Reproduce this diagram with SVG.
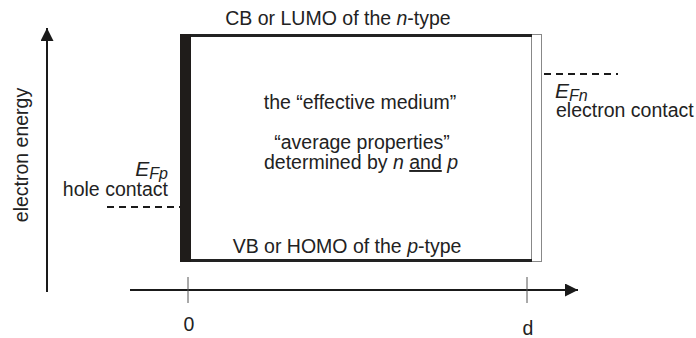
<svg xmlns="http://www.w3.org/2000/svg" width="696" height="338" viewBox="0 0 696 338">
<defs>
<marker id="arrbig" viewBox="0 0 14 14" refX="14" refY="7" markerWidth="15" markerHeight="13" markerUnits="userSpaceOnUse" orient="auto">
<path d="M0,0 L14,7 L0,14 z" fill="#1a1a1a"/>
</marker>
</defs>
<style>
text{font-family:"Liberation Sans",Arial,sans-serif;font-size:19.5px;fill:#222}
.axis{stroke:#1a1a1a;stroke-width:2;fill:none}
.tick{stroke:#555;stroke-width:1}
.dash{stroke:#1a1a1a;stroke-width:2;stroke-dasharray:7,5;fill:none}
.band{stroke:#222;stroke-width:3}
.ef{font-style:italic;font-size:21px}
.sub{font-size:16px}
</style>
<rect width="696" height="338" fill="#fff"/>
<g id="connectors">
<line class="axis" x1="47" y1="292" x2="47" y2="28" marker-end="url(#arrbig)"/>
<line class="axis" x1="130" y1="290" x2="578" y2="290" marker-end="url(#arrbig)"/>
<line class="tick" x1="188" y1="277" x2="188" y2="303"/>
<line class="tick" x1="527" y1="277" x2="527" y2="303"/>
<line class="dash" x1="544" y1="74" x2="618" y2="74"/>
<line class="dash" x1="107" y1="207" x2="180" y2="207"/>
</g>
<g id="medium">
<rect x="531.5" y="34.5" width="10" height="227" fill="#fff" stroke="#888" stroke-width="1"/>
<line class="band" x1="190" y1="35.5" x2="532" y2="35.5"/>
<line class="band" x1="190" y1="260.5" x2="532" y2="260.5"/>
<rect x="180" y="34" width="11" height="228" fill="#1f1c1a"/>
<text x="338" y="25" text-anchor="middle">CB or LUMO of the <tspan font-style="italic">n</tspan>-type</text>
<text x="347" y="253" text-anchor="middle">VB or HOMO of the <tspan font-style="italic">p</tspan>-type</text>
<text x="360" y="109" text-anchor="middle">the “effective medium”</text>
<text x="362" y="149" text-anchor="middle">“average properties”</text>
<text x="361" y="169" text-anchor="middle">determined by <tspan font-style="italic">n</tspan> <tspan text-decoration="underline">and</tspan> <tspan font-style="italic">p</tspan></text>
</g>
<g id="electron-contact">
<text x="555" y="98" class="ef">E<tspan class="sub" dy="3">Fn</tspan></text>
<text x="556" y="117">electron contact</text>
</g>
<g id="hole-contact">
<text x="168" y="176" text-anchor="end" class="ef">E<tspan class="sub" dy="3">Fp</tspan></text>
<text x="168" y="196" text-anchor="end">hole contact</text>
</g>
<g id="axis-labels">
<text x="28" y="155" text-anchor="middle" transform="rotate(-90 28 155)">electron energy</text>
<text x="189" y="331" text-anchor="middle">0</text>
<text x="528" y="335" text-anchor="middle">d</text>
</g>
</svg>
